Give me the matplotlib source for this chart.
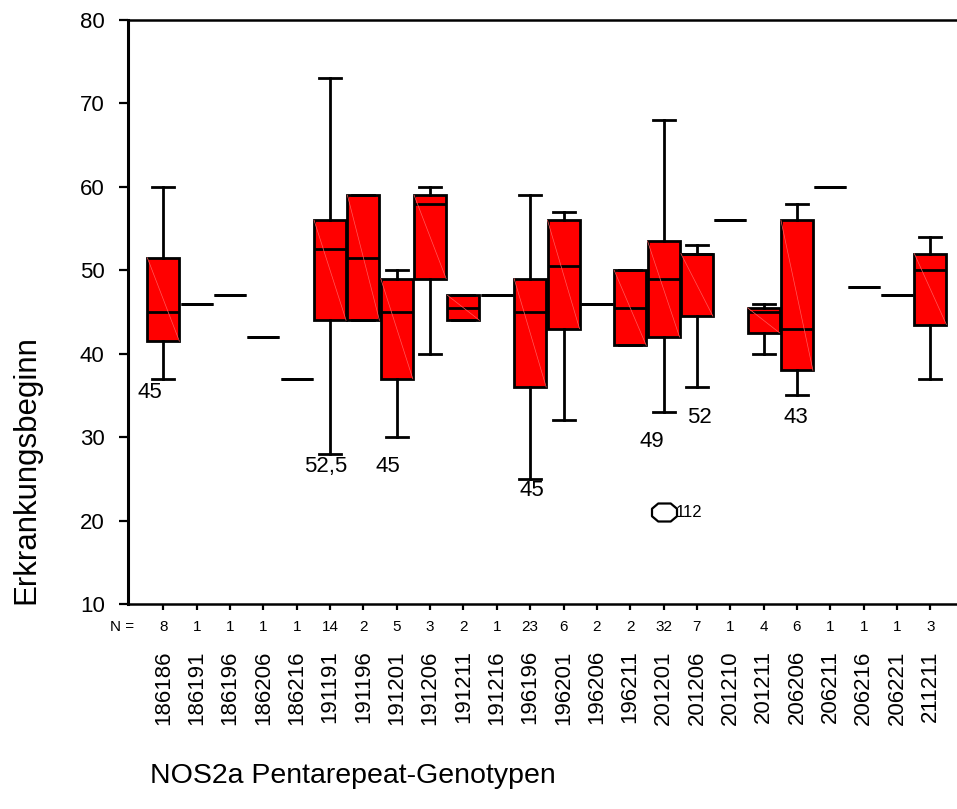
import numpy as np
import matplotlib.pyplot as plt
from matplotlib.path import Path

plt.rcParams['font.family'] = ['Liberation Sans', 'DejaVu Sans']

# === Daten ===
genotypes = ['186186', '186191', '186196', '186206', '186216', '191191', '191196', '191201',
             '191206', '191211', '191216', '196196', '196201', '196206', '196211', '201201',
             '201206', '201210', '201211', '206206', '206211', '206216', '206221', '211211']
n_counts = [8, 1, 1, 1, 1, 14, 2, 5, 3, 2, 1, 23, 6, 2, 2, 32, 7, 1, 4, 6, 1, 1, 1, 3]
whis_lo = [37, 46, 47, 42, 37, 28, 44, 30, 40, 44, 47, 25, 32, 46, 41, 33, 36, 56, 40, 35, 60, 48, 47, 37]
q1 = [41.5, 46, 47, 42, 37, 44, 44, 37, 49, 44, 47, 36, 43, 46, 41, 42, 44.5, 56, 42.5, 38, 60, 48, 47, 43.5]
median = [45, 46, 47, 42, 37, 52.5, 51.5, 45, 58, 45.5, 47, 45, 50.5, 46, 45.5, 49, 52, 56, 45, 43, 60, 48, 47, 50]
q3 = [51.5, 46, 47, 42, 37, 56, 59, 49, 59, 47, 47, 49, 56, 46, 50, 53.5, 52, 56, 45.5, 56, 60, 48, 47, 52]
whis_hi = [60, 46, 47, 42, 37, 73, 59, 50, 60, 47, 47, 59, 57, 46, 50, 68, 53, 56, 46, 58, 60, 48, 47, 54]

# Ausreisser
outlier_group = 15
outlier_value = 21
outlier_label = '112'

# Beschriftete Mediane: Gruppe, Höhe der Beschriftung, seitliche Verschiebung (px)
label_groups = [0, 5, 7, 11, 15, 16, 19]
label_y = [35.3, 26.5, 26.5, 23.6, 29.5, 32.3, 32.3]
label_dx = [-13, -4.5, -9, 2, -12, 3, -1]

# === Figur ===
fig = plt.figure(figsize=(9.57, 8.09), dpi=100)
ax = fig.add_axes([0.1334, 0.2534, 0.8666, 0.7219])

stats = []
for i in range(len(genotypes)):
    stats.append({'med': median[i], 'q1': q1[i], 'q3': q3[i],
                  'whislo': whis_lo[i], 'whishi': whis_hi[i], 'fliers': []})

pos = np.arange(len(genotypes))
box_w = 0.96
ax.bxp(stats, positions=pos, widths=box_w, patch_artist=True, showfliers=False,
       boxprops=dict(facecolor='#ff0000', edgecolor='black', linewidth=2.0),
       medianprops=dict(color='black', linewidth=2.0),
       whiskerprops=dict(color='black', linewidth=2.0),
       capprops=dict(color='black', linewidth=2.0),
       capwidths=0.66)

# feine Diagonale in den Boxen (wie im Original)
for i in pos:
    if q3[i] > q1[i]:
        ax.plot([i - box_w / 2, i + box_w / 2], [q3[i], q1[i]], color='#ff5a5a', lw=0.5, zorder=2.5)

# Ausreisser als Achteck
octagon = Path([(-0.25, 0.36), (0.25, 0.36), (0.5, 0.15), (0.5, -0.15), (0.25, -0.36),
                (-0.25, -0.36), (-0.5, -0.15), (-0.5, 0.15), (-0.25, 0.36)], closed=True)
ax.plot([outlier_group], [outlier_value], marker=octagon, markersize=18, mfc='none',
        mec='black', mew=1.6, ls='none')
ax.annotate(outlier_label, xy=(outlier_group, outlier_value), xytext=(9, 0),
            textcoords='offset points', ha='left', va='center', fontsize=12)

# Mediane unter den Boxen
for g, yv, dx in zip(label_groups, label_y, label_dx):
    txt = ('%g' % median[g]).replace('.', ',')
    ax.annotate(txt, xy=(g, yv), xytext=(dx * 0.72, 0), textcoords='offset points',
                ha='center', va='center', fontsize=16)

# N-Zeile
for i, n in enumerate(n_counts):
    ax.annotate(str(n), xy=(i, 0), xycoords=('data', 'axes fraction'), xytext=(0, -16.5),
                textcoords='offset points', ha='center', va='center', fontsize=11)
ax.annotate('N =', xy=(0, 0), xycoords='axes fraction', xytext=(5, -16.5),
            textcoords='offset points', ha='right', va='center', fontsize=11)

# Achsen
ax.set_xlim(-1.07, 23.8)
ax.set_ylim(10, 80)
ax.set_yticks(range(10, 81, 10))
ax.set_xticks(pos)
ax.set_xticklabels(genotypes, rotation=90, fontsize=16)
ax.tick_params(axis='y', direction='out', length=6.5, width=1.6, pad=10, labelsize=16)
ax.tick_params(axis='x', direction='out', length=4.3, width=1.6, pad=29)
ax.spines['right'].set_visible(False)
ax.spines['left'].set_linewidth(2.2)
ax.spines['top'].set_linewidth(1.8)
ax.spines['bottom'].set_linewidth(1.8)

fig.text(26 / 957, 1 - 470 / 809, 'Erkrankungsbeginn', rotation=90, ha='center', va='center', fontsize=22.5)
fig.text(353 / 957, 1 - 776 / 809, 'NOS2a Pentarepeat-Genotypen', ha='center', va='center', fontsize=20.5)

fig.savefig('out.png', dpi=100)
